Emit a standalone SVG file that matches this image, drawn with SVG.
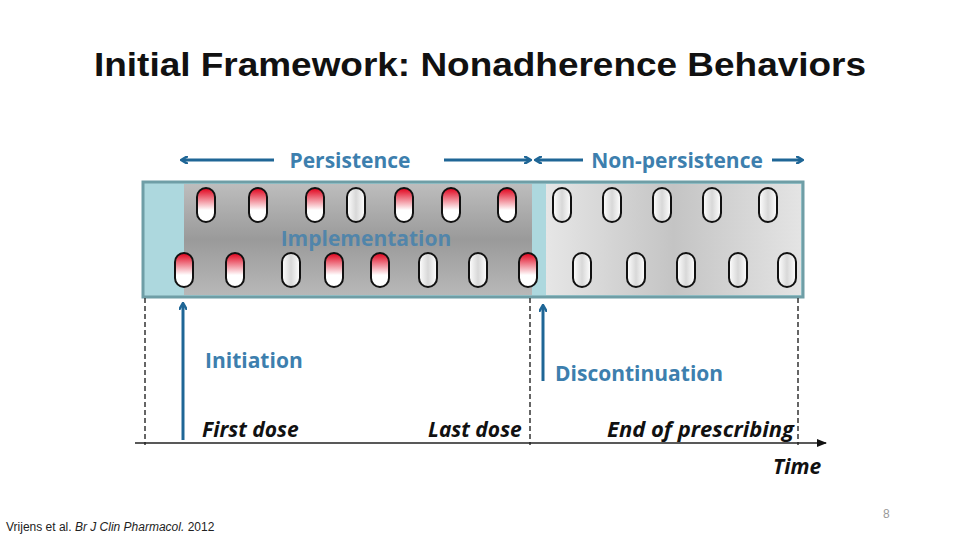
<svg xmlns="http://www.w3.org/2000/svg" width="960" height="540" viewBox="0 0 960 540">
<style>
.lbl{font-family:"Open Sans","Liberation Sans",sans-serif;font-weight:bold;fill:#3d7fae;font-size:21px}
.it{font-family:"Open Sans","Liberation Sans",sans-serif;font-weight:bold;font-style:italic;fill:#111;font-size:21px}
.red{fill:url(#rg);stroke:#111;stroke-width:2}
.wh{fill:url(#wg);stroke:#111;stroke-width:2}
.dash{stroke:#333;stroke-width:1.5;stroke-dasharray:5,3}
.ar{stroke:#1f6696;stroke-width:3;fill:none}
</style>
<defs>
<linearGradient id="rg" x1="0" y1="0" x2="0" y2="1"><stop offset="0" stop-color="#e0001a"/><stop offset="0.65" stop-color="#fff"/></linearGradient>
<linearGradient id="wg" x1="0" y1="0" x2="1" y2="0"><stop offset="0" stop-color="#fff"/><stop offset="0.5" stop-color="#d8d8d8"/><stop offset="1" stop-color="#fff"/></linearGradient>
<linearGradient id="dg" x1="0" y1="0" x2="0" y2="1"><stop offset="0" stop-color="#bdbdbd"/><stop offset="0.5" stop-color="#9a9a9a"/><stop offset="1" stop-color="#b8b8b8"/></linearGradient>
<linearGradient id="lg" x1="0" y1="0" x2="1" y2="0"><stop offset="0" stop-color="#e6e6e6"/><stop offset="0.5" stop-color="#c4c4c4"/><stop offset="1" stop-color="#e4e4e4"/></linearGradient>
<marker id="ah" markerWidth="8" markerHeight="8" refX="6" refY="4" orient="auto" markerUnits="userSpaceOnUse"><path d="M0,0 L7,4 L0,8" fill="none" stroke="#1f6696" stroke-width="2.5"/></marker>
<marker id="bk" markerWidth="10" markerHeight="8" refX="9" refY="4" orient="auto" markerUnits="userSpaceOnUse"><path d="M0,0 L10,4 L0,8 z" fill="#111"/></marker>
</defs>
<rect width="960" height="540" fill="#fff"/>
<text x="480" y="76" text-anchor="middle" font-family="Liberation Sans,Arial,sans-serif" font-weight="bold" font-size="34" textLength="772" lengthAdjust="spacingAndGlyphs" fill="#111">Initial Framework: Nonadherence Behaviors</text>

<g id="bar">
<rect x="143" y="182" width="660" height="115" fill="#add8de" stroke="#6f9ea6" stroke-width="3"/>
<rect x="184" y="184" width="348" height="111" fill="url(#dg)"/>
<rect x="546" y="184" width="255" height="111" fill="url(#lg)"/>
<text x="366" y="246" text-anchor="middle" class="lbl" fill-opacity="0.8">Implementation</text>
<g class="pills">
<rect x="197" y="188" width="18" height="34" rx="9" class="red"/>
<rect x="249" y="188" width="18" height="34" rx="9" class="red"/>
<rect x="306" y="188" width="18" height="34" rx="9" class="red"/>
<rect x="347" y="188" width="18" height="34" rx="9" class="wh"/>
<rect x="395" y="188" width="18" height="34" rx="9" class="red"/>
<rect x="442" y="188" width="18" height="34" rx="9" class="red"/>
<rect x="498" y="188" width="18" height="34" rx="9" class="red"/>
<rect x="553" y="188" width="18" height="34" rx="9" class="wh"/>
<rect x="603" y="188" width="18" height="34" rx="9" class="wh"/>
<rect x="653" y="188" width="18" height="34" rx="9" class="wh"/>
<rect x="703" y="188" width="18" height="34" rx="9" class="wh"/>
<rect x="759" y="188" width="18" height="34" rx="9" class="wh"/>
<rect x="175" y="253" width="18" height="34" rx="9" class="red"/>
<rect x="226" y="253" width="18" height="34" rx="9" class="red"/>
<rect x="282" y="253" width="18" height="34" rx="9" class="wh"/>
<rect x="325" y="253" width="18" height="34" rx="9" class="red"/>
<rect x="371" y="253" width="18" height="34" rx="9" class="red"/>
<rect x="419" y="253" width="18" height="34" rx="9" class="wh"/>
<rect x="469" y="253" width="18" height="34" rx="9" class="wh"/>
<rect x="519" y="253" width="18" height="34" rx="9" class="red"/>
<rect x="573" y="253" width="18" height="34" rx="9" class="wh"/>
<rect x="627" y="253" width="18" height="34" rx="9" class="wh"/>
<rect x="677" y="253" width="18" height="34" rx="9" class="wh"/>
<rect x="729" y="253" width="18" height="34" rx="9" class="wh"/>
<rect x="778" y="253" width="18" height="34" rx="9" class="wh"/>
</g>
</g>

<g id="connectors">
<line x1="274" y1="160" x2="182" y2="160" class="ar" marker-end="url(#ah)"/>
<line x1="444" y1="160" x2="530" y2="160" class="ar" marker-end="url(#ah)"/>
<line x1="583" y1="160" x2="536" y2="160" class="ar" marker-end="url(#ah)"/>
<line x1="772" y1="160" x2="802" y2="160" class="ar" marker-end="url(#ah)"/>
<line x1="145" y1="298" x2="145" y2="445" class="dash"/>
<line x1="530" y1="298" x2="530" y2="445" class="dash"/>
<line x1="798" y1="298" x2="798" y2="445" class="dash"/>
<line x1="135" y1="443" x2="826" y2="443" stroke="#222" stroke-width="1.5" marker-end="url(#bk)"/>
<line x1="183" y1="440" x2="183" y2="304" class="ar" marker-end="url(#ah)"/>
<line x1="543" y1="381" x2="543" y2="306" class="ar" marker-end="url(#ah)"/>
</g>

<g id="labels">
<text x="350" y="168" text-anchor="middle" class="lbl">Persistence</text>
<text x="677" y="168" text-anchor="middle" class="lbl">Non-persistence</text>
<text x="205" y="368" class="lbl">Initiation</text>
<text x="555" y="381" class="lbl">Discontinuation</text>
<text x="202" y="437" class="it">First dose</text>
<text x="428" y="437" class="it">Last dose</text>
<text x="607" y="437" class="it" textLength="187" lengthAdjust="spacingAndGlyphs">End of prescribing</text>
<text x="773" y="474" class="it">Time</text>
</g>

<text x="6" y="531" font-family="Liberation Sans,Arial,sans-serif" font-size="12" fill="#222">Vrijens et al. <tspan font-style="italic">Br J Clin Pharmacol.</tspan> 2012</text>
<text x="883" y="518" font-family="Liberation Sans,Arial,sans-serif" font-size="12" fill="#999">8</text>
</svg>
